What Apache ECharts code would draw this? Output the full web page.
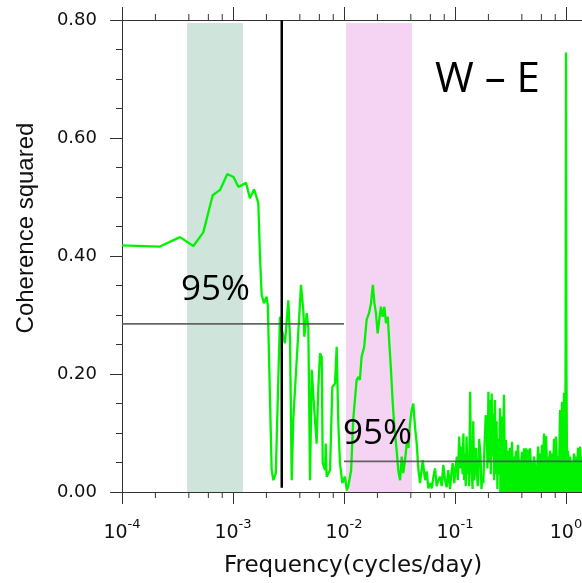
<!DOCTYPE html>
<html>
<head>
<meta charset="utf-8">
<script src="https://cdn.jsdelivr.net/npm/echarts@6/dist/echarts.min.js"></script>
<style>
html,body{margin:0;padding:0;background:#fff;}
#chart{width:582px;height:583px;}
</style>
</head>
<body>
<div id="chart"></div>
<script>
// ---- Data ----
const freqA = [1.0e-4, 2.2e-4, 3.33e-4, 4.39e-4, 5.4e-4, 6.56e-4, 7.64e-4, 8.89e-4, 1.01e-3, 1.12e-3, 1.31e-3, 1.42e-3, 1.55e-3, 1.69e-3, 1.75e-3, 1.81e-3, 1.90e-3, 2.01e-3, 2.06e-3, 2.23e-3, 2.31e-3, 2.43e-3, 2.65e-3, 2.75e-3, 2.94e-3, 3.15e-3, 3.26e-3, 3.38e-3, 3.49e-3, 4.10e-3, 4.30e-3, 4.39e-3, 4.61e-3, 4.77e-3, 4.94e-3, 5.12e-3, 5.40e-3, 5.67e-3, 5.86e-3, 6.08e-3, 6.30e-3, 6.43e-3, 6.75e-3, 6.84e-3, 6.98e-3, 7.48e-3, 7.85e-3, 8.30e-3, 8.59e-3, 8.89e-3, 9.20e-3, 9.66e-3, 1.02e-2];
const cohA = [0.418, 0.416, 0.432, 0.417, 0.440, 0.503, 0.512, 0.539, 0.534, 0.517, 0.524, 0.498, 0.513, 0.490, 0.400, 0.335, 0.320, 0.331, 0.315, 0.037, 0.020, 0.032, 0.297, 0.275, 0.252, 0.325, 0.263, 0.020, 0.122, 0.351, 0.308, 0.263, 0.303, 0.280, 0.020, 0.207, 0.139, 0.082, 0.173, 0.235, 0.229, 0.049, 0.037, 0.082, 0.026, 0.037, 0.178, 0.184, 0.246, 0.116, 0.049, 0.015, 0.026];

const freqB = [1.06e-2, 1.09e-2, 1.16e-2, 1.21e-2, 1.30e-2, 1.35e-2, 1.39e-2, 1.44e-2, 1.52e-2, 1.60e-2, 1.68e-2, 1.75e-2, 1.82e-2, 1.88e-2, 1.94e-2, 2.01e-2, 2.08e-2, 2.15e-2, 2.23e-2, 2.31e-2, 2.39e-2, 2.48e-2, 2.56e-2, 2.65e-2, 2.75e-2, 2.84e-2, 2.98e-2, 3.08e-2, 3.20e-2, 3.31e-2, 3.42e-2, 3.55e-2, 3.67e-2, 3.81e-2, 3.93e-2, 4.07e-2, 4.21e-2, 4.36e-2, 4.52e-2, 4.67e-2, 4.84e-2];
const cohB = [0.003, 0.009, 0.037, 0.122, 0.190, 0.195, 0.190, 0.229, 0.246, 0.292, 0.303, 0.320, 0.351, 0.320, 0.303, 0.269, 0.292, 0.314, 0.297, 0.314, 0.286, 0.297, 0.252, 0.207, 0.150, 0.111, 0.071, 0.037, 0.020, 0.060, 0.032, 0.054, 0.082, 0.075, 0.116, 0.139, 0.150, 0.111, 0.082, 0.040, 0.015];

const freqC = [5.12e-2, 5.37e-2, 5.56e-2, 5.75e-2, 5.96e-2, 6.17e-2, 6.38e-2, 6.61e-2, 6.84e-2, 7.07e-2, 7.32e-2, 7.59e-2, 7.85e-2, 8.13e-2, 8.41e-2, 8.69e-2, 9.02e-2, 9.25e-2, 9.53e-2, 9.86e-2, 0.101, 0.104, 0.106, 0.109, 0.112, 0.115, 0.117, 0.119, 0.121, 0.123, 0.125, 0.127, 0.130, 0.132, 0.134, 0.137, 0.139, 0.141, 0.144, 0.146, 0.149, 0.151, 0.154, 0.157, 0.160, 0.162, 0.165, 0.170, 0.173, 0.176, 0.180, 0.183, 0.186, 0.189, 0.193, 0.196, 0.200, 0.203, 0.207, 0.210, 0.214, 0.218, 0.221, 0.225, 0.229, 0.233, 0.237, 0.241, 0.245, 0.250];
const cohC = [0.054, 0.020, 0.035, 0.006, 0.015, 0.006, 0.025, 0.040, 0.010, 0.020, 0.026, 0.010, 0.046, 0.020, 0.008, 0.037, 0.005, 0.030, 0.049, 0.015, 0.040, 0.060, 0.020, 0.094, 0.040, 0.077, 0.030, 0.099, 0.020, 0.065, 0.010, 0.094, 0.030, 0.049, 0.010, 0.170, 0.060, 0.037, 0.005, 0.120, 0.020, 0.032, 0.075, 0.077, 0.010, 0.020, 0.090, 0.060, 0.005, 0.025, 0.015, 0.060, 0.060, 0.130, 0.122, 0.040, 0.170, 0.050, 0.156, 0.030, 0.167, 0.060, 0.133, 0.020, 0.156, 0.030, 0.120, 0.005, 0.090, 0.030];

const freqD = [0.254, 0.260, 0.265, 0.271, 0.276, 0.282, 0.288, 0.294, 0.300, 0.307, 0.313, 0.320, 0.326, 0.333, 0.340, 0.347, 0.355, 0.362, 0.370, 0.377, 0.385, 0.393, 0.402, 0.410, 0.419, 0.427, 0.436, 0.445, 0.455, 0.464, 0.474, 0.484, 0.494, 0.505, 0.515, 0.526, 0.537, 0.548, 0.560, 0.571, 0.583, 0.596, 0.608, 0.621, 0.634, 0.647, 0.661, 0.675, 0.689, 0.703, 0.718, 0.733, 0.748, 0.764, 0.780, 0.797, 0.813, 0.830, 0.848, 0.865, 0.884, 0.902, 0.921, 0.940, 0.960, 0.980, 0.990, 1.000, 1.010, 1.021, 1.042, 1.064, 1.087, 1.109, 1.133, 1.156, 1.181, 1.205, 1.231, 1.257, 1.283, 1.310, 1.337, 1.365, 1.394, 1.423];
const cohD = [0.142, 0.030, 0.128, 0.040, 0.165, 0.020, 0.088, 0.045, 0.070, 0.035, 0.075, 0.048, 0.085, 0.030, 0.060, 0.040, 0.070, 0.050, 0.080, 0.035, 0.055, 0.045, 0.068, 0.030, 0.074, 0.050, 0.074, 0.040, 0.072, 0.035, 0.074, 0.045, 0.050, 0.025, 0.060, 0.045, 0.045, 0.030, 0.077, 0.048, 0.065, 0.035, 0.080, 0.050, 0.099, 0.040, 0.095, 0.045, 0.060, 0.030, 0.070, 0.045, 0.065, 0.035, 0.090, 0.050, 0.094, 0.045, 0.060, 0.030, 0.139, 0.050, 0.153, 0.060, 0.168, 0.080, 0.190, 0.745, 0.200, 0.045, 0.070, 0.030, 0.060, 0.045, 0.050, 0.035, 0.065, 0.050, 0.060, 0.040, 0.075, 0.050, 0.077, 0.040, 0.060, 0.045];

// significance levels (95%) and their frequency ranges
const sig95Low = 0.285, sig95LowRange = [1e-4, 1e-2];
const sig95High = 0.052, sig95HighRange = [1e-2, 10];
// shaded bands (frequency ranges)
const bandGreen = [3.86e-4, 1.23e-3];
const bandPink = [1.04e-2, 4.1e-2];
const bandTop = 0.795;
// vertical marker frequency
const markerFreq = 2.75e-3;
const markerRange = [0.007, 0.8];
// minor tick frequencies (2,4,6,8 per decade)
const minorTickFreqs = [2e-4,4e-4,6e-4,8e-4, 2e-3,4e-3,6e-3,8e-3, 2e-2,4e-2,6e-2,8e-2, 0.2,0.4,0.6,0.8, 2,4,6,8];

const freqMain = freqA.concat(freqB, freqC);
const cohMain = cohA.concat(cohB, cohC);
const mainData = freqMain.map((f, i) => [f, cohMain[i]]);
// dense high-frequency part (joined to the last point of the main part)
const denseData = [[freqC[freqC.length - 1], cohC[cohC.length - 1]]].concat(freqD.map((f, i) => [f, cohD[i]]));

const green = '#00f200';
const axisColor = '#333';
const chart = echarts.init(document.getElementById('chart'), null, {renderer: 'canvas'});

const logLabel = {
  margin: 26,
  formatter: v => { const e = Math.round(Math.log10(v)); return '{b|10}{s|' + e + '}'; },
  rich: {
    b: {fontFamily: 'DejaVu Sans', fontSize: 19, lineHeight: 30, color: '#111'},
    s: {fontFamily: 'DejaVu Sans', fontSize: 13, lineHeight: 13, verticalAlign: 'top', color: '#111'}
  }
};

const option = {
  animation: false,
  backgroundColor: '#fff',
  grid: {left: 122, top: 20, right: -95, bottom: 91, outerBoundsMode: 'none', containLabel: false},
  xAxis: [
    {type: 'log', logBase: 10, min: 1e-4, max: 10, position: 'bottom',
     axisLine: {show: true, onZero: false, lineStyle: {color: axisColor, width: 1}},
     axisTick: {show: true, length: 12, lineStyle: {color: axisColor}},
     axisLabel: logLabel, splitLine: {show: false}},
    {type: 'log', logBase: 10, min: 1e-4, max: 10, position: 'top',
     axisLine: {show: true, onZero: false, lineStyle: {color: axisColor, width: 1}},
     axisTick: {show: true, length: 13, lineStyle: {color: axisColor}},
     axisLabel: {show: false}, splitLine: {show: false}}
  ],
  yAxis: {type: 'value', min: 0, max: 0.8, interval: 0.2,
    axisLine: {show: true, onZero: false, lineStyle: {color: axisColor, width: 1}},
    axisTick: {show: true, length: 12, lineStyle: {color: axisColor}},
    minorTick: {show: true, splitNumber: 4, length: 6, lineStyle: {color: axisColor}},
    splitLine: {show: false},
    axisLabel: {margin: 25, fontFamily: 'DejaVu Sans', fontSize: 18, color: '#111',
      formatter: v => v.toFixed(2)}
  },
  series: [
    {type: 'line', data: [], z: 1, silent: true,
     markArea: {silent: true, data: [
       [{xAxis: bandGreen[0], yAxis: 0, itemStyle: {color: '#cfe5dc'}}, {xAxis: bandGreen[1], yAxis: bandTop}],
       [{xAxis: bandPink[0], yAxis: 0, itemStyle: {color: '#f4d4f2'}}, {xAxis: bandPink[1], yAxis: bandTop}]
     ]}},
    {type: 'line', data: mainData, z: 3, symbol: 'none', silent: true,
     lineStyle: {color: green, width: 2.3}},
    {type: 'line', data: denseData, z: 3, symbol: 'none', silent: true,
     lineStyle: {color: green, width: 2.3},
     areaStyle: {color: green, opacity: 1, origin: 'start'}},
    {type: 'line', data: [[sig95LowRange[0], sig95Low], [sig95LowRange[1], sig95Low]], z: 4,
     symbol: 'none', silent: true, lineStyle: {color: '#555', width: 1.8, opacity: 0.9}},
    {type: 'line', data: [[sig95HighRange[0], sig95High], [sig95HighRange[1], sig95High]], z: 4,
     symbol: 'none', silent: true, lineStyle: {color: '#555', width: 1.8, opacity: 0.9}},
    {type: 'line', data: [[markerFreq, markerRange[0]], [markerFreq, markerRange[1]]], z: 5,
     symbol: 'none', silent: true, lineStyle: {color: '#000', width: 2.5}},
    {type: 'custom', xAxisIndex: 0, yAxisIndex: 0, clip: false, silent: true, z: 6,
     data: minorTickFreqs.map(f => [f, 0]),
     renderItem: (params, api) => {
       const f = api.value(0);
       const b = api.coord([f, 0]);
       const t = api.coord([f, 0.8]);
       return {type: 'group', children: [
         {type: 'line', shape: {x1: b[0], y1: b[1], x2: b[0], y2: b[1] + 6}, style: {stroke: axisColor, lineWidth: 1}},
         {type: 'line', shape: {x1: t[0], y1: t[1], x2: t[0], y2: t[1] - 6}, style: {stroke: axisColor, lineWidth: 1}}
       ]};
     }}
  ],
  graphic: [
    {type: 'text', x: 435, y: 80, z: 10, style: {text: 'W – E', font: '42px "Open Sans"', fill: '#000', textAlign: 'left', textVerticalAlign: 'middle', verticalAlign: 'middle'}},
    {type: 'text', x: 181, y: 290, z: 10, style: {text: '95%', font: '35px "Open Sans"', fill: '#000', textAlign: 'left', textVerticalAlign: 'middle', verticalAlign: 'middle'}},
    {type: 'text', x: 343, y: 434, z: 10, style: {text: '95%', font: '35px "Open Sans"', fill: '#000', textAlign: 'left', textVerticalAlign: 'middle', verticalAlign: 'middle'}},
    {type: 'text', x: 353, y: 566, z: 10, style: {text: 'Frequency(cycles/day)', font: '23px "DejaVu Sans"', fill: '#111', textAlign: 'center', textVerticalAlign: 'middle', verticalAlign: 'middle'}},
    {type: 'text', x: 26, y: 228, rotation: Math.PI / 2, z: 10, style: {text: 'Coherence squared', font: '24px "Liberation Sans"', fill: '#111', textAlign: 'center', textVerticalAlign: 'middle', verticalAlign: 'middle'}}
  ]
};
chart.setOption(option);
</script>
</body>
</html>
